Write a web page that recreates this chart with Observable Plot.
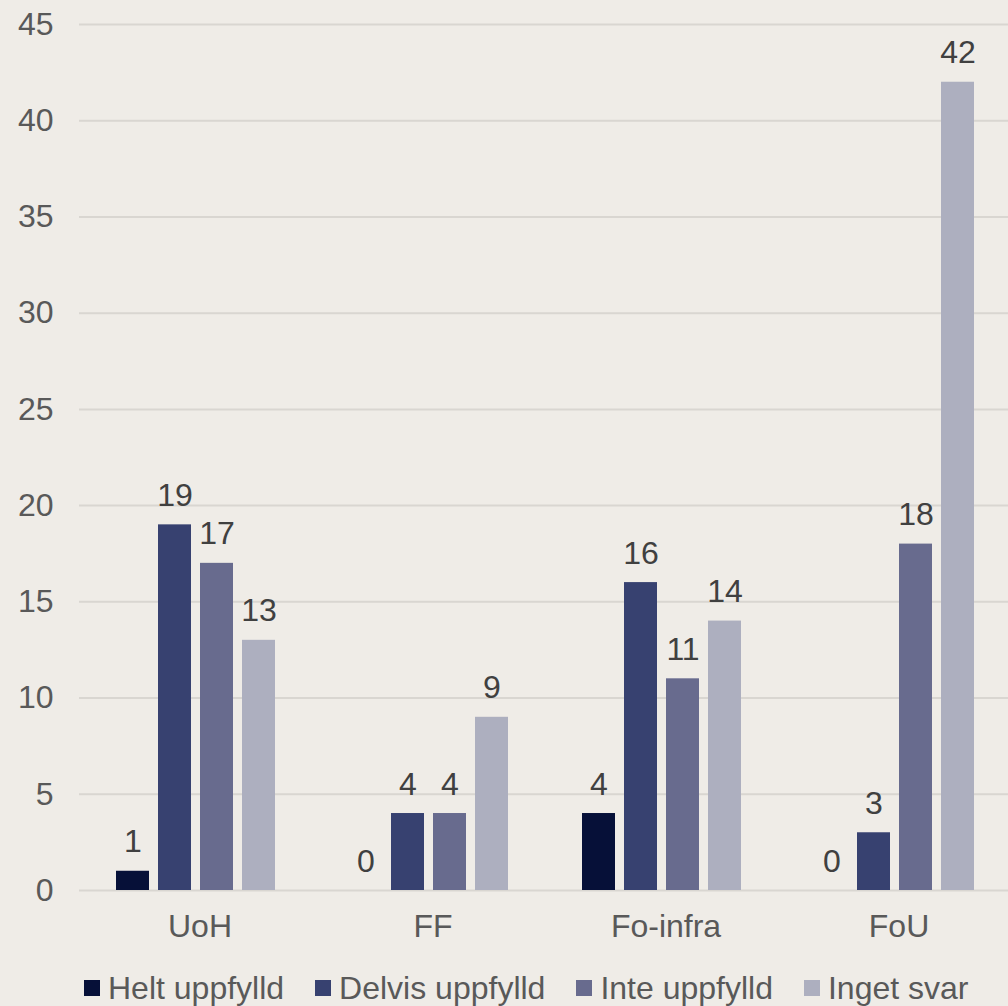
<!DOCTYPE html>
<html>
<head>
<meta charset="utf-8">
<script src="https://cdn.jsdelivr.net/npm/d3@7"></script>
<script src="https://cdn.jsdelivr.net/npm/@observablehq/plot@0.6"></script>
<style>
  html, body { margin: 0; padding: 0; background: #efece7; }
  body { width: 1008px; height: 1006px; position: relative; overflow: hidden; font-family: "Liberation Sans", Arial, sans-serif; }
  #legend { position: absolute; top: 970px; left: 84px; height: 36px; display: flex; align-items: center; gap: 31px; font-size: 32px; line-height: 36px; color: #595959; }
  .item { display: flex; align-items: center; gap: 8px; white-space: nowrap; }
  .sw { width: 16px; height: 16px; display: inline-block; }
</style>
</head>
<body>
<div id="chart"></div>
<div id="legend"></div>
<script>
const categories = ["UoH", "FF", "Fo-infra", "FoU"];
const series = ["Helt uppfylld", "Delvis uppfylld", "Inte uppfylld", "Inget svar"];
const heltUppfylld = [1, 0, 4, 0];
const delvisUppfylld = [19, 4, 16, 3];
const inteUppfylld = [17, 4, 11, 18];
const ingetSvar = [13, 9, 14, 42];
const colors = ["#061038", "#374170", "#686b8e", "#adafbf"];
const yTicks = [0, 5, 10, 15, 20, 25, 30, 35, 40, 45];

const seriesValues = [heltUppfylld, delvisUppfylld, inteUppfylld, ingetSvar];
const data = [];
categories.forEach((c, i) => {
  series.forEach((s, j) => {
    data.push({category: c, series: s, value: seriesValues[j][i]});
  });
});

const chart = Plot.plot({
  width: 1008,
  height: 950,
  marginLeft: 78,
  marginRight: -3,
  marginTop: 24,
  marginBottom: 60,
  style: {fontFamily: "'Liberation Sans', Arial, sans-serif", fontSize: "32px", background: "#efece7", overflow: "hidden"},
  fx: {domain: categories, padding: 0, label: null, axis: null},
  x: {domain: series, paddingInner: 0.22, paddingOuter: 0.866, axis: null},
  y: {domain: [0, 45], ticks: yTicks, label: null, axis: null},
  color: {domain: series, range: colors},
  marks: [
    Plot.gridY(yTicks, {stroke: "#d9d6d1", strokeOpacity: 1, strokeWidth: 2}),
    Plot.axisY(yTicks, {tickSize: 0, tickPadding: 26, color: "#595959", fontSize: 32, label: null}),
    Plot.axisFx({anchor: "bottom", tickSize: 0, tickPadding: 24, dx: 4, color: "#595959", fontSize: 32, label: null}),
    Plot.barY(data, {fx: "category", x: "series", y: "value", fill: "series"}),
    Plot.text(data, {fx: "category", x: "series", y: "value", text: d => String(d.value), lineAnchor: "bottom", dy: -19, fill: "#404040", fontSize: 32})
  ]
});
document.getElementById("chart").appendChild(chart);

const legend = document.getElementById("legend");
series.forEach((s, i) => {
  const item = document.createElement("div");
  item.className = "item";
  const sw = document.createElement("span");
  sw.className = "sw";
  sw.style.background = colors[i];
  const t = document.createElement("span");
  t.textContent = s;
  item.appendChild(sw);
  item.appendChild(t);
  legend.appendChild(item);
});
</script>
</body>
</html>
